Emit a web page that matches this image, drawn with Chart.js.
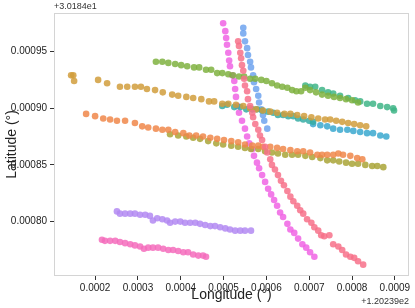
<!DOCTYPE html>
<html>
<head>
<meta charset="utf-8">
<script src="https://cdn.jsdelivr.net/npm/chart.js@4"></script>
<style>
  html, body { margin: 0; padding: 0; background: #fff; }
  #wrap { width: 415px; height: 308px; }
</style>
</head>
<body>
<div id="wrap"><canvas id="tracks"></canvas></div>
<script>
// values are offsets from 120.239 (lon) and 30.184 (lat)
const xTicks = [0.0002, 0.0003, 0.0004, 0.0005, 0.0006, 0.0007, 0.0008, 0.0009];
const yTicks = [0.00080, 0.00085, 0.00090, 0.00095];

const goldLon = [0.000144, 0.000149, 0.000151, 0.000207, 0.000228, 0.000258, 0.000275, 0.000293, 0.000307, 0.000321, 0.00034, 0.000358, 0.00038, 0.000394, 0.000413, 0.000429, 0.000448, 0.000466, 0.000478, 0.000497, 0.000511, 0.000529, 0.000546, 0.000562, 0.000576, 0.000592, 0.000609, 0.000625, 0.000642, 0.000656, 0.000672, 0.000688, 0.000705, 0.000721, 0.000737, 0.000749, 0.000763, 0.000777, 0.000791, 0.000805, 0.000819, 0.000833];
const goldLat = [0.000929, 0.000929, 0.000924, 0.000925, 0.000922, 0.000919, 0.000919, 0.000919, 0.000919, 0.000917, 0.000916, 0.000914, 0.000912, 0.000911, 0.00091, 0.000909, 0.000908, 0.000906, 0.000906, 0.000904, 0.000904, 0.000903, 0.000902, 0.0009, 0.000899, 0.000898, 0.000897, 0.000896, 0.000895, 0.000895, 0.000894, 0.000893, 0.000892, 0.000891, 0.00089, 0.00089, 0.000889, 0.000888, 0.000887, 0.000886, 0.000885, 0.000884];

const orangeLon = [0.000179, 0.0002, 0.000219, 0.000235, 0.000251, 0.00027, 0.000293, 0.00031, 0.000324, 0.000342, 0.000357, 0.000371, 0.000387, 0.000406, 0.00042, 0.000436, 0.000452, 0.000469, 0.000485, 0.000501, 0.000518, 0.000534, 0.00055, 0.000567, 0.000581, 0.000592, 0.000609, 0.000625, 0.000639, 0.000656, 0.000672, 0.000686, 0.000702, 0.000719, 0.00073, 0.000742, 0.000756, 0.000768, 0.000779, 0.000796, 0.000812, 0.000824];
const orangeLat = [0.000895, 0.000893, 0.000891, 0.00089, 0.000889, 0.000889, 0.000887, 0.000884, 0.000883, 0.000882, 0.000881, 0.000881, 0.000879, 0.000878, 0.000876, 0.000876, 0.000875, 0.000874, 0.000873, 0.000872, 0.000871, 0.00087, 0.000868, 0.000867, 0.000867, 0.000866, 0.000866, 0.000865, 0.000864, 0.000863, 0.000862, 0.000862, 0.000861, 0.000859, 0.000859, 0.000859, 0.000859, 0.00086, 0.000859, 0.000858, 0.000856, 0.000855];

const oliveLon = [0.000375, 0.000394, 0.000413, 0.000429, 0.000445, 0.000464, 0.000483, 0.000499, 0.000518, 0.000534, 0.00055, 0.000564, 0.000581, 0.000597, 0.000613, 0.000627, 0.000644, 0.00066, 0.000674, 0.000691, 0.000707, 0.000726, 0.000742, 0.000756, 0.00077, 0.000786, 0.0008, 0.000814, 0.000831, 0.000847, 0.000859, 0.000873];
const oliveLat = [0.000877, 0.000876, 0.000875, 0.000874, 0.000873, 0.000871, 0.000869, 0.000868, 0.000867, 0.000866, 0.000865, 0.000864, 0.000864, 0.000862, 0.000861, 0.00086, 0.000859, 0.000859, 0.000859, 0.000858, 0.000857, 0.000856, 0.000854, 0.000854, 0.000853, 0.000852, 0.000851, 0.000851, 0.00085, 0.000849, 0.000849, 0.000848];

const greenLon = [0.000342, 0.000357, 0.000371, 0.000387, 0.000401, 0.000415, 0.000431, 0.000443, 0.000459, 0.000471, 0.000485, 0.000497, 0.000511, 0.000522, 0.000536, 0.000548, 0.000562, 0.000574, 0.000588, 0.0006, 0.000613, 0.000625, 0.000637, 0.000649, 0.00066, 0.00067, 0.000681, 0.000691, 0.000702, 0.000716, 0.00073, 0.000744, 0.000758, 0.000772, 0.000786, 0.0008, 0.000814];
const greenLat = [0.000941, 0.000941, 0.00094, 0.000939, 0.000938, 0.000937, 0.000936, 0.000936, 0.000934, 0.000934, 0.000931, 0.000931, 0.00093, 0.000929, 0.000928, 0.000928, 0.000926, 0.000926, 0.000925, 0.000924, 0.000922, 0.00092, 0.000919, 0.000918, 0.000916, 0.000915, 0.000915, 0.000918, 0.000916, 0.000914, 0.000912, 0.000911, 0.00091, 0.000909, 0.000908, 0.000907, 0.000905];

const seaLon = [0.000691, 0.000702, 0.000714, 0.00073, 0.000744, 0.000756, 0.000772, 0.000791, 0.000807, 0.000819, 0.000835, 0.000849, 0.000866, 0.000882, 0.000896, 0.000898];
const seaLat = [0.00092, 0.000919, 0.000919, 0.000916, 0.000914, 0.000913, 0.000911, 0.000909, 0.000907, 0.000906, 0.000904, 0.000904, 0.000902, 0.000901, 0.0009, 0.000898];

const tealLon = [0.000497, 0.000508, 0.000525, 0.000539, 0.000553, 0.000567, 0.000578, 0.00059, 0.000604, 0.000616, 0.000627, 0.000639, 0.000651, 0.000663, 0.000674, 0.000686, 0.0007, 0.000709];
const tealLat = [0.000902, 0.000903, 0.000901, 0.000901, 0.000899, 0.000899, 0.000899, 0.000898, 0.000897, 0.000896, 0.000894, 0.000894, 0.000893, 0.000893, 0.000891, 0.00089, 0.000889, 0.000888];

const cyanLon = [0.000709, 0.000726, 0.000742, 0.000756, 0.000772, 0.000789, 0.000803, 0.000819, 0.000835, 0.000849, 0.000866, 0.00088];
const cyanLat = [0.000886, 0.000885, 0.000884, 0.000882, 0.000881, 0.000881, 0.00088, 0.000879, 0.000878, 0.000878, 0.000876, 0.000875];

const blueLon = [0.000546, 0.000546, 0.00055, 0.000555, 0.000557, 0.000562, 0.000564, 0.000569, 0.000571, 0.000576, 0.000581, 0.000583, 0.000588, 0.000592, 0.000595, 0.000602];
const blueLat = [0.000971, 0.000966, 0.000959, 0.000953, 0.000947, 0.000941, 0.000936, 0.000929, 0.000923, 0.000917, 0.000911, 0.000905, 0.000899, 0.000894, 0.000889, 0.000882];

const purpleLon = [0.000251, 0.000258, 0.00027, 0.000282, 0.000293, 0.000305, 0.000317, 0.000328, 0.000335, 0.000345, 0.000357, 0.000368, 0.000375, 0.000387, 0.000399, 0.00041, 0.000422, 0.000434, 0.000445, 0.000457, 0.000469, 0.00048, 0.000492, 0.000504, 0.000515, 0.000527, 0.000539, 0.00055, 0.000564];
const purpleLat = [0.000809, 0.000807, 0.000807, 0.000807, 0.000807, 0.000806, 0.000806, 0.000805, 0.000801, 0.000803, 0.000802, 0.000801, 0.000799, 0.0008, 0.0008, 0.000799, 0.000799, 0.000799, 0.000798, 0.000797, 0.000796, 0.000796, 0.000795, 0.000794, 0.000793, 0.000792, 0.000792, 0.000792, 0.000792];

const magentaLon = [0.000499, 0.000504, 0.000506, 0.000508, 0.000511, 0.000513, 0.000515, 0.00052, 0.000525, 0.000527, 0.000529, 0.000532, 0.000536, 0.000543, 0.00055, 0.000555, 0.00056, 0.000567, 0.000571, 0.000578, 0.000583, 0.00059, 0.000597, 0.000604, 0.000611, 0.000618, 0.000625, 0.000632, 0.000639, 0.000649, 0.000656, 0.000665, 0.000674, 0.000684, 0.000693, 0.000702, 0.000712];
const magentaLat = [0.000975, 0.000968, 0.000962, 0.000956, 0.000949, 0.000942, 0.000937, 0.000929, 0.000924, 0.000917, 0.00091, 0.000902, 0.000896, 0.000889, 0.000882, 0.000875, 0.000869, 0.000864, 0.000858, 0.000852, 0.000847, 0.000841, 0.000835, 0.000829, 0.000824, 0.000819, 0.000814, 0.000808, 0.000804, 0.000798, 0.000793, 0.00079, 0.000785, 0.00078, 0.000777, 0.000773, 0.000769];

const pinkLon = [0.000216, 0.000223, 0.000235, 0.000247, 0.000258, 0.00027, 0.000282, 0.000293, 0.000305, 0.000314, 0.000324, 0.000335, 0.000347, 0.000359, 0.000371, 0.000382, 0.000394, 0.000406, 0.000417, 0.000429, 0.000441, 0.000452, 0.000459];
const pinkLat = [0.000784, 0.000783, 0.000783, 0.000783, 0.000782, 0.000781, 0.00078, 0.000779, 0.000778, 0.000776, 0.000777, 0.000777, 0.000777, 0.000776, 0.000775, 0.000775, 0.000774, 0.000773, 0.000773, 0.000771, 0.00077, 0.00077, 0.000769];

const redLon = [0.000534, 0.000536, 0.000539, 0.000541, 0.000543, 0.000546, 0.000548, 0.00055, 0.000555, 0.000557, 0.000562, 0.000567, 0.000569, 0.000574, 0.000581, 0.000585, 0.00059, 0.000597, 0.000602, 0.000609, 0.000613, 0.00062, 0.000627, 0.000634, 0.000641, 0.000649, 0.000656, 0.000663, 0.000672, 0.000679, 0.000686, 0.000695, 0.000705, 0.000712, 0.000721, 0.000728, 0.000735, 0.000747, 0.000756, 0.000768, 0.000777, 0.000786, 0.000796, 0.000805, 0.000814, 0.000826];
const redLat = [0.000959, 0.000955, 0.000949, 0.000944, 0.000938, 0.000933, 0.000926, 0.00092, 0.000915, 0.000908, 0.000902, 0.000896, 0.000892, 0.000886, 0.000881, 0.000876, 0.000872, 0.000866, 0.000861, 0.000855, 0.00085, 0.000846, 0.000841, 0.000836, 0.000832, 0.000827, 0.000822, 0.000818, 0.000814, 0.00081, 0.000807, 0.000802, 0.000799, 0.000795, 0.000792, 0.000788, 0.000787, 0.000788, 0.00078, 0.000778, 0.000775, 0.000771, 0.000769, 0.000768, 0.000765, 0.000762];

const tracks = [
  [redLon, redLat, '#f77189'],
  [orangeLon, orangeLat, '#f0874a'],
  [goldLon, goldLat, '#d19d3c'],
  [oliveLon, oliveLat, '#a9a537'],
  [greenLon, greenLat, '#7fb23f'],
  [seaLon, seaLat, '#3fb587'],
  [tealLon, tealLat, '#36ada4'],
  [cyanLon, cyanLat, '#3aa8cf'],
  [blueLon, blueLat, '#6ea3ef'],
  [purpleLon, purpleLat, '#b38af2'],
  [magentaLon, magentaLat, '#f064e4'],
  [pinkLon, pinkLat, '#f56cbc']
];

function zip(xs, ys) {
  return xs.map((x, i) => ({x: x, y: ys[i]}));
}

function fade(hex, a) {
  const n = parseInt(hex.slice(1), 16);
  return 'rgba(' + (n >> 16) + ',' + ((n >> 8) & 255) + ',' + (n & 255) + ',' + a + ')';
}

// frame on all four sides + offset labels like matplotlib
const framePlugin = {
  id: 'frame',
  afterDraw(chart) {
    const a = chart.chartArea;
    const ctx = chart.ctx;
    ctx.save();
    ctx.strokeStyle = '#d4d4d4';
    ctx.lineWidth = 1;
    ctx.strokeRect(a.left + 0.5, a.top + 0.5, a.right - a.left - 1, a.bottom - a.top - 1);
    ctx.fillStyle = '#333';
    ctx.font = '9px "Liberation Sans", Arial, sans-serif';
    ctx.textBaseline = 'bottom';
    ctx.textAlign = 'left';
    ctx.fillText('+3.0184e1', a.left, a.top - 2);
    ctx.textBaseline = 'middle';
    ctx.textAlign = 'right';
    ctx.fillText('+1.20239e2', a.right, 302);
    ctx.restore();
  }
};

const tickFont = {family: '"Liberation Sans", Arial, sans-serif', size: 10};
const titleFont = {family: '"Liberation Sans", Arial, sans-serif', size: 14};

new Chart(document.getElementById('tracks'), {
  type: 'scatter',
  data: {
    datasets: tracks.map((t) => ({
      data: zip(t[0], t[1]),
      backgroundColor: fade(t[2], 0.85),
      borderWidth: 0,
      pointRadius: 3.3,
      pointHoverRadius: 3.3
    }))
  },
  options: {
    responsive: true,
    maintainAspectRatio: false,
    animation: false,
    layout: {padding: {top: 13, right: 6, left: 0, bottom: 0}},
    plugins: {legend: {display: false}, tooltip: {enabled: false}},
    scales: {
      x: {
        min: 0.000104,
        max: 0.000933,
        afterBuildTicks: (s) => { s.ticks = xTicks.map((v) => ({value: v})); },
        afterFit: (s) => { s.height = 32; },
        ticks: {color: '#222', font: tickFont, padding: 2, maxRotation: 0,
          callback: (v) => Number(v).toFixed(4)},
        grid: {display: true, drawOnChartArea: false, drawTicks: true, tickLength: 4, color: '#333'},
        border: {display: false},
        title: {display: true, text: 'Longitude (°)', color: '#222', font: titleFont, padding: {top: 0, bottom: 4}}
      },
      y: {
        min: 0.000752,
        max: 0.000984,
        afterBuildTicks: (s) => { s.ticks = yTicks.map((v) => ({value: v})); },
        afterFit: (s) => { s.width = 54; },
        ticks: {color: '#222', font: tickFont, padding: 3,
          callback: (v) => Number(v).toFixed(5)},
        grid: {display: true, drawOnChartArea: false, drawTicks: true, tickLength: 4, color: '#333'},
        border: {display: false},
        title: {display: true, text: 'Latitude (°)', color: '#222', font: titleFont, padding: {top: 4, bottom: 0}}
      }
    }
  },
  plugins: [framePlugin]
});
</script>
</body>
</html>
